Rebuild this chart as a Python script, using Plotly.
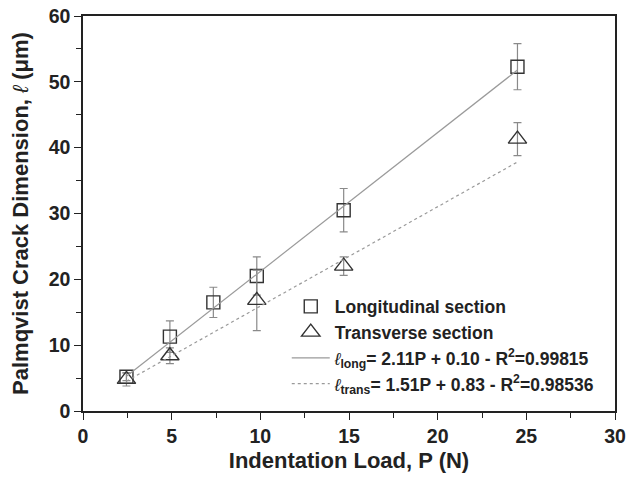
import plotly.graph_objects as go

# Data
load_long = [2.45, 4.9, 7.35, 9.8, 14.7, 24.5]
crack_long = [5.2, 11.3, 16.5, 20.5, 30.5, 52.3]
err_long = [0.6, 2.4, 2.3, 2.9, 3.3, 3.5]

load_trans = [2.45, 4.9, 9.8, 14.7, 24.5]
crack_trans = [4.8, 8.4, 16.8, 22.0, 41.3]
err_trans = [1.0, 1.2, 4.6, 1.4, 2.5]

fit_x = [2.45, 24.5]
slope_long, icpt_long = 2.11, 0.10
slope_trans, icpt_trans = 1.51, 0.83

FONT = "Liberation Sans, Arial, sans-serif"

fig = go.Figure()

fig.add_trace(go.Scatter(
    x=load_long, y=crack_long, mode="markers",
    name="<b>Longitudinal section</b>",
    marker=dict(symbol="square-open", size=13, color="#333333", line=dict(width=1.4)),
    error_y=dict(type="data", array=err_long, color="#8a8a8a", thickness=1.2, width=4),
))
fig.add_trace(go.Scatter(
    x=load_trans, y=crack_trans, mode="markers",
    name="<b>Transverse section</b>",
    marker=dict(symbol="triangle-up-open", size=16, color="#333333", line=dict(width=1.4)),
    error_y=dict(type="data", array=err_trans, color="#8a8a8a", thickness=1.2, width=4),
))
fig.add_trace(go.Scatter(
    x=fit_x, y=[slope_long * v + icpt_long for v in fit_x], mode="lines",
    name="<i>ℓ</i><sub><b>long</b></sub><b>= 2.11P + 0.10 - R<sup>2</sup>=0.99815</b>",
    line=dict(color="#9a9a9a", width=1.2),
))
fig.add_trace(go.Scatter(
    x=fit_x, y=[slope_trans * v + icpt_trans for v in fit_x], mode="lines",
    name="<i>ℓ</i><sub><b>trans</b></sub><b>= 1.51P + 0.83 - R<sup>2</sup>=0.98536</b>",
    line=dict(color="#9a9a9a", width=1.2, dash="dot"),
))

axis_common = dict(
    showline=True, linecolor="#222222", linewidth=1.5, mirror=True,
    ticks="outside", ticklen=7, tickwidth=1.3, tickcolor="#222222",
    showgrid=False, zeroline=False, automargin=False,
    tickfont=dict(family=FONT, size=19.5, color="#222222", weight="bold"),
)

fig.update_xaxes(
    range=[0, 30], dtick=5, tick0=0,
    minor=dict(ticks="outside", ticklen=5, dtick=2.5, tickcolor="#222222", tickwidth=1.2),
    title=dict(text="<b>Indentation Load, P (N)</b>", font=dict(family=FONT, size=22, color="#222222"), standoff=6),
    **axis_common,
)
fig.update_yaxes(
    range=[0, 60], dtick=10, tick0=0,
    minor=dict(ticks="outside", ticklen=5, dtick=5, tickcolor="#222222", tickwidth=1.2),
    title=dict(text="<b>Palmqvist Crack Dimension, </b><i>ℓ</i><b> (μm)</b>", font=dict(family=FONT, size=22, color="#222222"), standoff=14),
    **axis_common,
)

fig.update_layout(
    width=626, height=477,
    margin=dict(l=83, r=11, t=16, b=66),
    paper_bgcolor="white", plot_bgcolor="white",
    showlegend=True,
    legend=dict(
        x=0.383, y=0.31, xanchor="left", yanchor="top",
        bgcolor="rgba(0,0,0,0)", borderwidth=0,
        font=dict(family=FONT, size=17.5, color="#222222"),
        tracegroupgap=0, itemwidth=38,
    ),
)

fig.write_html(
    "out.html",
    config={"displayModeBar": False},
    post_script="document.body.style.margin='0';document.body.style.overflow='hidden';",
)
